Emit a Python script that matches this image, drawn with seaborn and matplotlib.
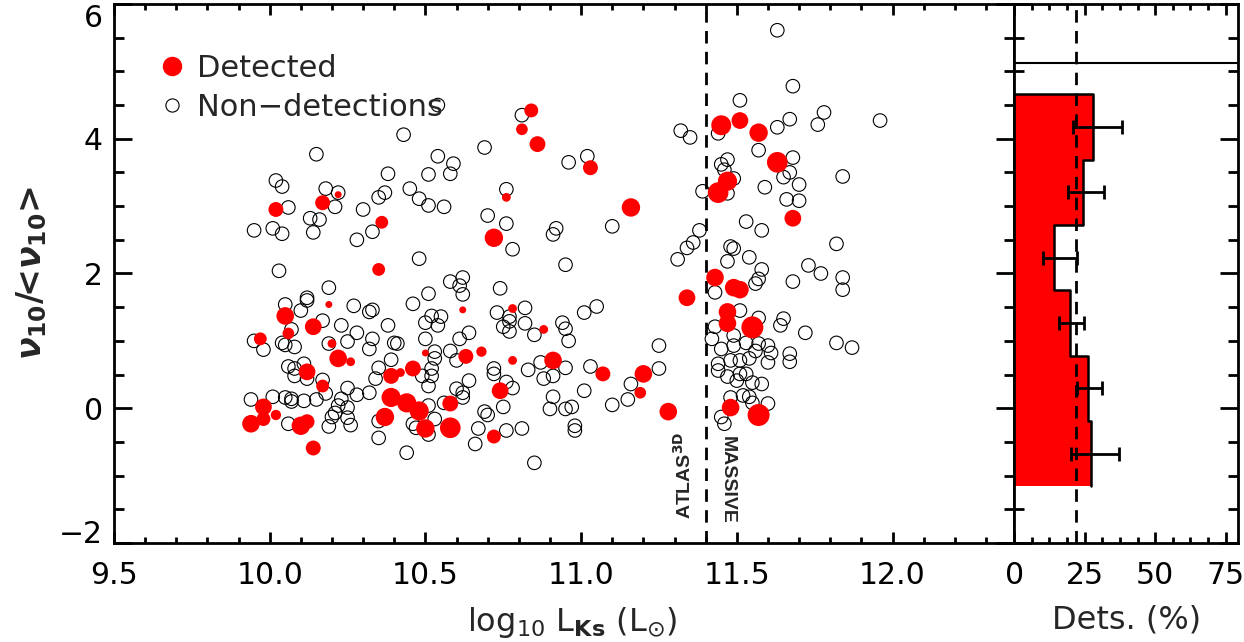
import matplotlib
matplotlib.use("Agg")
import matplotlib.pyplot as plt
from matplotlib.lines import Line2D
from matplotlib.ticker import MultipleLocator, FormatStrFormatter
import numpy as np
import pandas as pd
import seaborn as sns

# non-detections: log10 L_Ks and nu10/<nu10>
nondet_logL = [
    10.54, 10.43, 10.15, 10.54, 10.59, 10.38, 10.51, 10.58, 10.02, 10.04,
    10.18, 10.22, 10.45, 10.37, 10.35, 10.48, 10.51, 10.56, 10.06, 10.21,
    10.30, 10.13, 10.16, 9.95, 10.01, 10.04, 10.14, 10.33, 10.28, 10.69,
    10.81, 10.96, 11.02, 10.76, 10.70, 10.76, 10.92, 10.91, 11.10, 11.32,
    11.35, 10.78, 11.34, 11.63, 11.68, 11.51, 11.78, 11.76, 11.67, 11.63,
    11.96, 11.44, 11.57, 11.47, 11.45, 11.68, 11.67, 11.65, 11.70, 11.84,
    11.49, 11.46, 11.59, 11.39, 11.47, 11.66, 11.70, 11.53, 11.58, 11.38,
    11.36, 11.48, 11.82, 10.48, 10.03, 10.58, 10.19, 10.51, 10.12, 10.12,
    10.05, 10.27, 10.46, 10.10, 10.32, 10.33, 10.52, 10.55, 10.50, 10.54,
    10.17, 10.23, 10.38, 10.07, 10.28, 9.95, 9.98, 10.04, 10.05, 10.08,
    10.19, 10.25, 10.33, 10.32, 10.40, 10.41, 10.50, 10.58, 10.53, 10.53,
    10.60, 10.39, 10.06, 10.08, 10.11, 10.35, 10.52, 10.08, 10.12, 10.17,
    10.34, 10.49, 10.52, 10.25, 10.51, 9.94, 10.01, 10.05, 10.07, 10.07,
    10.11, 10.15, 10.18, 10.23, 10.28, 10.32, 10.22, 10.21, 10.25, 10.20,
    10.25, 10.26, 10.19, 10.06, 10.35, 10.46, 10.51, 10.53, 10.47, 10.51,
    10.56, 10.60, 10.35, 10.44, 10.95, 11.31, 10.62, 10.61, 10.62, 10.74,
    10.73, 10.77, 10.77, 10.75, 10.77, 10.82, 10.82, 10.85, 10.94, 10.95,
    10.96, 11.01, 11.05, 10.64, 11.25, 10.61, 10.72, 10.72, 10.83, 10.87,
    10.91, 10.88, 10.95, 11.03, 10.64, 10.76, 10.78, 10.62, 10.62, 11.01,
    10.91, 10.90, 10.95, 10.97, 10.75, 10.69, 10.70, 11.10, 11.15, 11.16,
    11.25, 10.67, 10.76, 10.81, 10.98, 10.98, 10.66, 10.85, 11.49, 11.54,
    11.47, 11.73, 11.77, 11.84, 11.84, 11.68, 11.58, 11.57, 11.56, 11.43,
    11.51, 11.57, 11.65, 11.64, 11.72, 11.82, 11.87, 11.43, 11.49, 11.42,
    11.45, 11.49, 11.53, 11.57, 11.60, 11.56, 11.61, 11.54, 11.60, 11.67,
    11.67, 11.48, 11.44, 11.44, 11.51, 11.47, 11.50, 11.53, 11.55, 11.58,
    11.51, 11.48, 11.52, 11.54, 11.55, 11.60, 11.45, 11.46,
]
nondet_ratio = [
    4.50, 4.06, 3.77, 3.74, 3.63, 3.48, 3.47, 3.48, 3.38, 3.29,
    3.26, 3.20, 3.26, 3.20, 3.13, 3.11, 3.01, 2.99, 2.98, 2.99,
    2.95, 2.82, 2.80, 2.64, 2.67, 2.59, 2.61, 2.62, 2.50, 3.87,
    4.35, 3.65, 3.74, 3.25, 2.86, 2.74, 2.67, 2.58, 2.70, 4.12,
    4.02, 2.36, 2.38, 5.61, 4.78, 4.57, 4.39, 4.21, 4.29, 4.17,
    4.27, 4.08, 3.83, 3.69, 3.62, 3.72, 3.50, 3.43, 3.32, 3.44,
    3.41, 3.54, 3.28, 3.22, 3.19, 3.10, 3.08, 2.77, 2.64, 2.64,
    2.46, 2.40, 2.44, 2.22, 2.04, 1.88, 1.79, 1.70, 1.64, 1.60,
    1.54, 1.52, 1.55, 1.45, 1.43, 1.46, 1.37, 1.36, 1.27, 1.23,
    1.30, 1.23, 1.23, 1.17, 1.12, 1.00, 0.87, 0.97, 0.94, 0.91,
    0.96, 0.99, 1.03, 0.88, 0.97, 0.96, 1.03, 0.85, 0.84, 0.74,
    0.71, 0.72, 0.62, 0.59, 0.66, 0.60, 0.59, 0.48, 0.44, 0.42,
    0.44, 0.48, 0.48, 0.30, 0.33, 0.13, 0.17, 0.16, 0.14, 0.10,
    0.11, 0.13, 0.22, 0.14, 0.20, 0.23, 0.04, -0.07, 0.01, -0.13,
    -0.14, -0.25, -0.27, -0.23, -0.19, -0.23, 0.04, -0.16, -0.29, -0.39,
    0.08, 0.29, -0.44, -0.66, 2.13, 2.21, 1.94, 1.82, 1.69, 1.78,
    1.42, 1.36, 1.29, 1.21, 1.14, 1.49, 1.26, 1.09, 1.27, 1.18,
    1.00, 1.42, 1.51, 1.12, 0.93, 1.03, 0.59, 0.51, 0.57, 0.68,
    0.48, 0.44, 0.60, 0.62, 0.41, 0.39, 0.30, 0.23, 0.16, 0.26,
    0.17, -0.01, -0.01, 0.02, 0.02, -0.05, -0.10, 0.05, 0.13, 0.36,
    0.59, -0.30, -0.33, -0.30, -0.26, -0.33, -0.53, -0.81, 2.37, 2.24,
    2.18, 2.12, 2.00, 1.94, 1.76, 1.88, 2.06, 1.92, 1.85, 1.72,
    1.45, 1.34, 1.33, 1.23, 1.12, 0.97, 0.90, 1.21, 1.08, 1.03,
    0.88, 0.93, 0.97, 0.96, 0.93, 0.85, 0.82, 0.74, 0.68, 0.81,
    0.69, 0.71, 0.66, 0.56, 0.71, 0.47, 0.41, 0.51, 0.38, 0.36,
    0.51, 0.16, 0.19, 0.17, 0.08, 0.07, -0.13, -0.23,
]

# detections, with a relative detection strength (drawn as marker size)
det_logL = [
    10.02, 10.17, 10.22, 10.36, 10.84, 10.81, 10.86, 11.03, 10.76, 11.16,
    10.72, 11.45, 11.51, 11.57, 11.63, 11.47, 11.44, 11.68, 10.35, 10.05,
    10.19, 10.14, 10.06, 9.97, 10.20, 10.22, 10.26, 10.50, 10.12, 10.46,
    10.42, 10.39, 10.17, 9.98, 10.02, 9.98, 9.94, 10.10, 10.12, 10.14,
    10.39, 10.44, 10.48, 10.37, 10.50, 10.58, 10.58, 10.62, 10.78, 10.88,
    10.63, 10.68, 10.78, 10.91, 10.74, 11.07, 11.20, 11.19, 11.28, 10.72,
    11.34, 11.43, 11.49, 11.51, 11.47, 11.47, 11.55, 11.48, 11.57,
]
det_ratio = [
    2.95, 3.05, 3.17, 2.76, 4.42, 4.14, 3.92, 3.57, 3.13, 2.98,
    2.53, 4.20, 4.27, 4.09, 3.65, 3.37, 3.20, 2.82, 2.06, 1.37,
    1.54, 1.21, 1.11, 1.03, 0.96, 0.74, 0.69, 0.82, 0.54, 0.59,
    0.53, 0.48, 0.33, 0.02, -0.10, -0.16, -0.23, -0.26, -0.20, -0.59,
    0.16, 0.08, -0.04, -0.13, -0.30, 0.07, -0.29, 1.46, 1.48, 1.17,
    0.77, 0.84, 0.71, 0.71, 0.26, 0.51, 0.51, 0.23, -0.05, -0.42,
    1.64, 1.94, 1.79, 1.76, 1.43, 1.26, 1.20, 0.01, -0.10,
]
det_strength = [
    13, 13, 7, 11, 12, 10, 14, 13, 8, 17,
    17, 19, 15, 17, 20, 18, 20, 15, 11, 16,
    7, 15, 10, 11, 8, 16, 8, 7, 15, 14,
    8, 14, 11, 15, 9, 12, 16, 17, 13, 13,
    18, 18, 18, 17, 17, 14, 20, 7, 8, 8,
    13, 9, 8, 16, 15, 13, 16, 10, 16, 12,
    15, 16, 16, 16, 16, 16, 22, 16, 22,
]

# detection fraction per nu10/<nu10> bin (right panel)
bin_edges = [-1.16, -0.19, 0.78, 1.75, 2.72, 3.69, 4.66]
det_frac = [27.2, 26.3, 19.8, 14.2, 24.5, 28.0]
frac_err_lo = [7.1, 4.0, 3.8, 4.0, 5.3, 7.2]
frac_err_hi = [9.9, 4.7, 5.0, 8.0, 7.3, 10.3]
mean_frac = 21.9
total_level = 5.13
sample_split = 11.4

sns.set_style("ticks")
plt.rcParams["font.family"] = ["DejaVu Sans"]
plt.rcParams["mathtext.fontset"] = "custom"
plt.rcParams["mathtext.rm"] = "DejaVu Sans"
plt.rcParams["mathtext.it"] = "DejaVu Sans:italic:bold"
plt.rcParams["mathtext.bf"] = "DejaVu Sans:bold"

fig = plt.figure(figsize=(12.44, 6.42), dpi=100)
ax = fig.add_axes([0.0916, 0.1542, 0.7235, 0.8396])
axr = fig.add_axes([0.8153, 0.1542, 0.1801, 0.8396])

nd = pd.DataFrame({"logL": nondet_logL, "ratio": nondet_ratio})
det = pd.DataFrame({"logL": det_logL, "ratio": det_ratio, "strength": det_strength})

sns.scatterplot(data=nd, x="logL", y="ratio", ax=ax, marker="o", s=95,
                facecolors="none", edgecolor="black", linewidth=0.8,
                legend=False, zorder=2)
sns.scatterplot(data=det, x="logL", y="ratio", size="strength", sizes=(25, 251),
                size_norm=(7, 22), color="red", edgecolor="none", linewidth=0,
                legend=False, ax=ax, zorder=3)

dash = (0, (4.5, 3))
ax.axvline(sample_split, color="black", lw=2, ls=dash, zorder=1)

ax.text(11.33, -1.64, r"ATLAS$^{\mathbf{3D}}$", rotation=90, ha="center", va="bottom",
        fontsize=14, fontweight="bold", family="Liberation Sans")
ax.text(11.47, -0.41, "MASSIVE", rotation=270, ha="center", va="top",
        fontsize=14, fontweight="bold", family="Liberation Sans")

handles = [
    Line2D([], [], ls="", marker="o", color="red", markersize=13),
    Line2D([], [], ls="", marker="o", markerfacecolor="none", markeredgecolor="black",
           markersize=9.5, markeredgewidth=0.8),
]
ax.legend(handles, ["Detected", "Non\u2212detections"], loc="upper left",
          bbox_to_anchor=(0.048, 0.907), frameon=False, fontsize=22,
          handlelength=1.0, handletextpad=0.32, labelspacing=0.33, borderaxespad=0,
          borderpad=0)

ax.set_xlim(9.5, 12.39)
ax.set_ylim(-2, 6)
ax.xaxis.set_major_locator(MultipleLocator(0.5))
ax.xaxis.set_minor_locator(MultipleLocator(0.1))
ax.xaxis.set_major_formatter(FormatStrFormatter("%.1f"))
ax.yaxis.set_major_locator(MultipleLocator(2))
ax.yaxis.set_minor_locator(MultipleLocator(0.5))
ax.set_xlabel(r"log$_{\mathrm{10}}$ L$_{\mathbf{Ks}}$ (L$_{\odot}$)", fontsize=23, labelpad=6)
ax.xaxis.set_label_coords(0.509, -0.115)
ax.set_ylabel(r"$\nu_{\mathbf{10}}$/<$\nu_{\mathbf{10}}$>", fontsize=24,
              fontweight="bold", labelpad=7)

# right panel: detection fraction
centers = (np.array(bin_edges[:-1]) + np.array(bin_edges[1:])) / 2
sns.histplot(y=centers, weights=det_frac, bins=bin_edges, element="step", fill=True,
             color="red", alpha=1, linewidth=0, ax=axr)
xs, ys = [0], [bin_edges[-1]]
for i in reversed(range(len(det_frac))):
    xs += [det_frac[i], det_frac[i]]
    ys += [bin_edges[i + 1], bin_edges[i]]
axr.plot(xs, ys, color="black", lw=1.8, zorder=3)
axr.errorbar(det_frac, centers, xerr=[frac_err_lo, frac_err_hi], fmt="none",
             ecolor="black", elinewidth=2, capsize=5, capthick=2, zorder=4)
axr.axvline(mean_frac, color="black", lw=2, ls=dash, zorder=5)
axr.axhline(total_level, color="black", lw=1.5)

axr.set_xlim(0, 79.5)
axr.set_ylim(-2, 6)
axr.set_xticks([0, 25, 50, 75])
axr.xaxis.set_minor_locator(MultipleLocator(6.25))
axr.yaxis.set_major_locator(MultipleLocator(2))
axr.yaxis.set_minor_locator(MultipleLocator(0.5))
axr.set_xlabel("Dets. (%)", fontsize=23, labelpad=6)
axr.xaxis.set_label_coords(0.5, -0.115)
axr.set_ylabel("")

for a in (ax, axr):
    for sp in a.spines.values():
        sp.set_visible(True)
        sp.set_linewidth(2)
        sp.set_color("black")
    a.tick_params(which="both", direction="in", top=True, right=True, width=2,
                  labelsize=21.5, colors="black")
    a.tick_params(axis="x", which="major", length=8, pad=13)
    a.tick_params(axis="x", which="minor", length=4)
    a.tick_params(axis="y", which="major", length=13, pad=8)
    a.tick_params(axis="y", which="minor", length=7)
axr.tick_params(axis="y", labelleft=False)

# keep the end labels of the y axis inside the frame, as in the original
fig.canvas.draw()
for tick in ax.yaxis.get_major_ticks():
    if abs(tick.get_loc() - 6) < 1e-6:
        tick.label1.set_verticalalignment("top")
    if abs(tick.get_loc() + 2) < 1e-6:
        tick.label1.set_verticalalignment("baseline")

fig.savefig("out.png", dpi=100)
